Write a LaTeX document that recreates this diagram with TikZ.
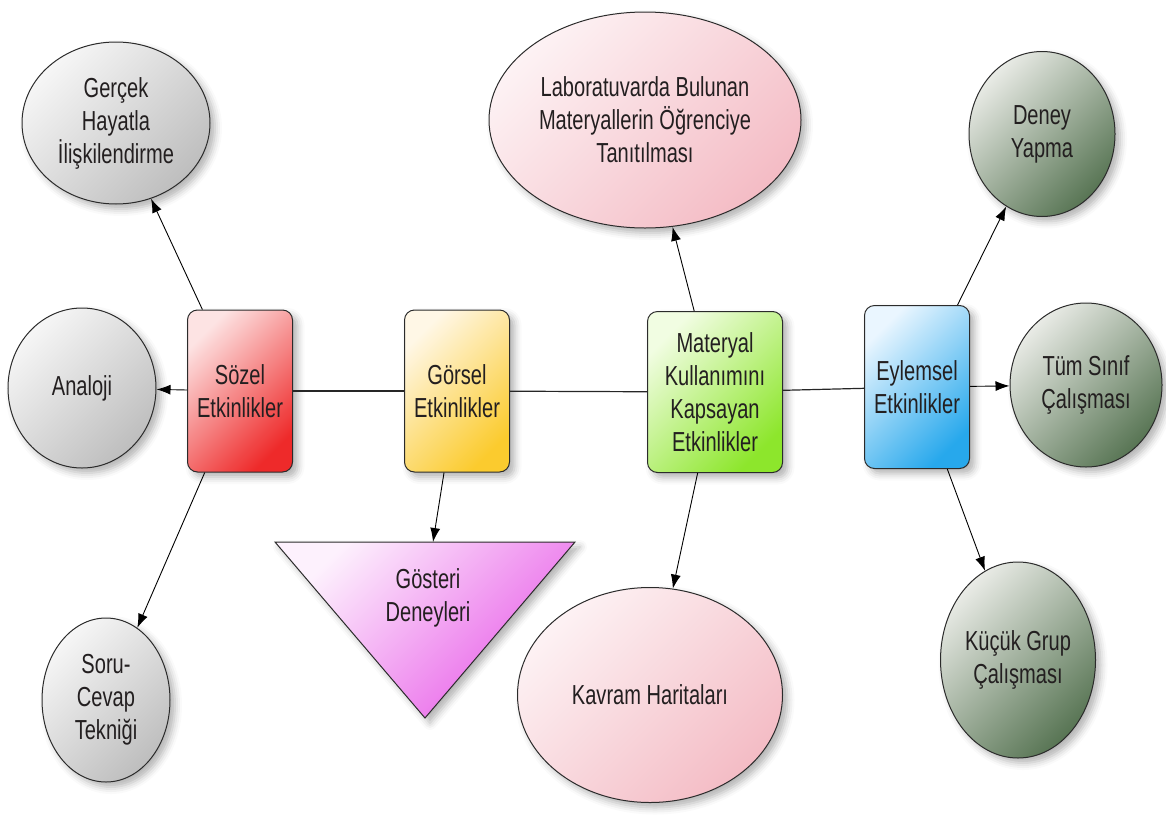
\documentclass[tikz,border=0pt]{standalone}
\usepackage{fontspec}
\setmainfont{Liberation Sans}[FakeStretch=0.73]
\usetikzlibrary{shapes.geometric,arrows.meta,shadows.blur}

\definecolor{txt}{HTML}{231F20}
\definecolor{edge}{HTML}{2B2B2B}
\definecolor{grayA}{HTML}{F6F6F6}
\definecolor{grayB}{HTML}{BEBEBE}
\definecolor{sozA}{HTML}{FDE3E3}
\definecolor{sozB}{HTML}{EE2A2A}
\definecolor{gorA}{HTML}{FFF7E6}
\definecolor{gorB}{HTML}{FBCB2E}
\definecolor{matA}{HTML}{F1FDE2}
\definecolor{matB}{HTML}{8DE62C}
\definecolor{eylA}{HTML}{EAF6FF}
\definecolor{eylB}{HTML}{27A8EC}
\definecolor{gosA}{HTML}{FDF1FD}
\definecolor{gosB}{HTML}{E85CE8}
\definecolor{pinkA}{HTML}{FDF2F4}
\definecolor{pinkB}{HTML}{F4BCC5}
\definecolor{grnA}{HTML}{E9EBE6}
\definecolor{grnB}{HTML}{587554}

\begin{document}
\begin{tikzpicture}[x=1pt,y=-1pt,
  every node/.style={font=\fontsize{27.5pt}{33pt}\selectfont, text=txt, align=center},
  shadowed/.style={blur shadow={shadow xshift=5pt, shadow yshift=-5pt,
      shadow blur radius=7pt, shadow opacity=30}},
  grad/.style 2 args={top color=#1, bottom color=#2, shading angle=45},
  box/.style={draw=edge, line width=1pt, rounded corners=10pt,
      minimum width=105pt, minimum height=162pt, inner sep=2pt, shadowed},
  oval/.style={ellipse, draw=edge, line width=1pt, inner sep=0pt, shadowed},
  arr/.style={-{Latex[length=14pt,width=10pt]}, line width=0.9pt, draw=black},
  link/.style={line width=1.2pt, draw=black!85}]

\useasboundingbox (0,0) rectangle (1166,814);

% central row of activity boxes
\node[box, grad={sozA}{sozB}] (soz) at (240,391) {Sözel\\Etkinlikler};
\node[box, grad={gorA}{gorB}] (gor) at (457,391) {Görsel\\Etkinlikler};
\node[box, minimum width=135pt, minimum height=161pt, grad={matA}{matB}] (mat) at (715,392)
  {Materyal\\Kullanımını\\Kapsayan\\Etkinlikler};
\node[box, minimum height=163pt, grad={eylA}{eylB}] (eyl) at (917,387) {Eylemsel\\Etkinlikler};

% verbal activities
\node[oval, minimum width=188pt, minimum height=162pt, grad={grayA}{grayB}] (ger) at (116,123)
  {Gerçek\\Hayatla\\İlişkilendirme};
\node[oval, minimum width=148pt, minimum height=160pt, grad={grayA}{grayB}] (ana) at (82,388) {Analoji};
\node[oval, minimum width=128pt, minimum height=164pt, grad={grayA}{grayB}] (soru) at (106,700)
  {Soru-\\Cevap\\Tekniği};

% visual activities
\path[draw=edge, line width=1pt, grad={gosA}{gosB}, shadowed]
  (275,542) -- (575,542) -- (425,718) -- cycle;
\node (gos) at (428,598) {Gösteri\\Deneyleri};
\coordinate (gostop) at (433,542);

% material based activities
\node[oval, minimum width=312pt, minimum height=216pt, grad={pinkA}{pinkB}] (lab) at (645,120)
  {Laboratuvarda Bulunan\\Materyallerin Öğrenciye\\Tanıtılması};
\node[oval, minimum width=265pt, minimum height=215pt, grad={pinkA}{pinkB}] (kav) at (650,695)
  {Kavram Haritaları};

% hands-on activities
\node[oval, minimum width=146pt, minimum height=165pt, grad={grnA}{grnB}] (den) at (1042,134)
  {Deney\\Yapma};
\node[oval, minimum width=152pt, minimum height=164pt, grad={grnA}{grnB}] (tum) at (1086,385)
  {Tüm Sınıf\\Çalışması};
\node[oval, minimum width=155pt, minimum height=196pt, grad={grnA}{grnB}] (kuc) at (1018,660)
  {Küçük Grup\\Çalışması};

% backbone
\draw[link] (soz) -- (gor);
\draw[link] (gor) -- (mat);
\draw[link] (mat) -- (eyl);

% branches
\draw[arr] (soz) -- (ger);
\draw[arr] (soz) -- (ana);
\draw[arr] (soz) -- (soru);
\draw[arr] (gor) -- (gostop);
\draw[arr] (mat) -- (lab);
\draw[arr] (mat) -- (kav);
\draw[arr] (eyl) -- (den);
\draw[arr] (eyl) -- (tum);
\draw[arr] (eyl) -- (kuc);
\end{tikzpicture}
\end{document}
